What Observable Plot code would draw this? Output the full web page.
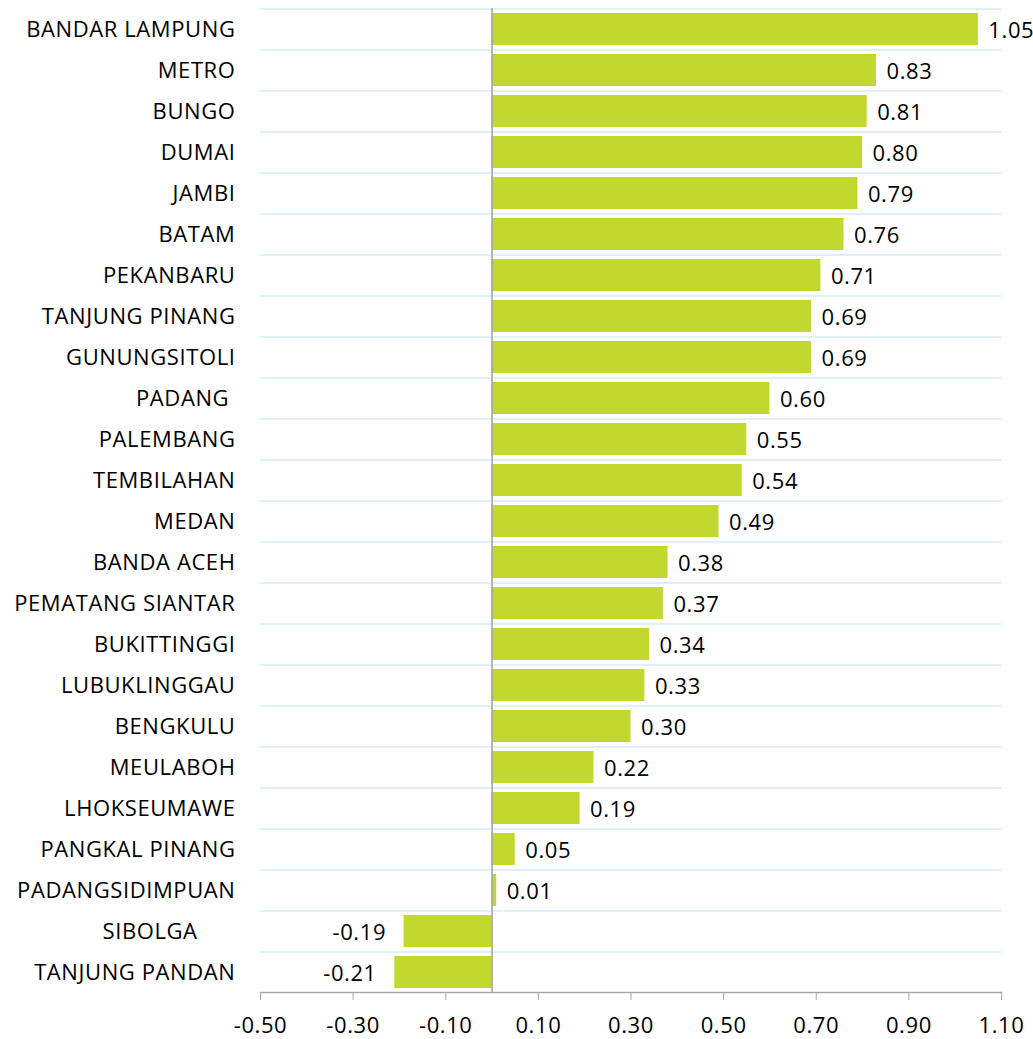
<!DOCTYPE html>
<html>
<head>
<meta charset="utf-8">
<script src="https://cdn.jsdelivr.net/npm/d3@7"></script>
<script src="https://cdn.jsdelivr.net/npm/@observablehq/plot@0.6"></script>
<style>
  html, body { margin: 0; padding: 0; background: #fff; }
  #chart svg text { white-space: pre; font-size: 22px; letter-spacing: 0.6px; }
</style>
</head>
<body>
<div id="chart"></div>
<script>
const cities = [
  "BANDAR LAMPUNG", "METRO", "BUNGO", "DUMAI", "JAMBI", "BATAM", "PEKANBARU",
  "TANJUNG PINANG", "GUNUNGSITOLI", "PADANG ", "PALEMBANG", "TEMBILAHAN", "MEDAN",
  "BANDA ACEH", "PEMATANG SIANTAR", "BUKITTINGGI", "LUBUKLINGGAU", "BENGKULU",
  "MEULABOH", "LHOKSEUMAWE", "PANGKAL PINANG", "PADANGSIDIMPUAN", "SIBOLGA      ",
  "TANJUNG PANDAN"
];
const values = [
  1.05, 0.83, 0.81, 0.80, 0.79, 0.76, 0.71,
  0.69, 0.69, 0.60, 0.55, 0.54, 0.49,
  0.38, 0.37, 0.34, 0.33, 0.30,
  0.22, 0.19, 0.05, 0.01, -0.19,
  -0.21
];
const xTicks = [-0.5, -0.3, -0.1, 0.1, 0.3, 0.5, 0.7, 0.9, 1.1];

const data = cities.map((c, i) => ({city: c, value: values[i]}));
const fmt = v => v.toFixed(2);

const chart = Plot.plot({
  width: 1033,
  height: 1039,
  marginLeft: 260,
  marginRight: 32,
  marginTop: 8,
  marginBottom: 47,
  style: {fontFamily: "'Open Sans', sans-serif", fontSize: "22px", color: "#000", background: "#fff"},
  x: {domain: [-0.5, 1.1], ticks: xTicks, tickFormat: fmt, label: null},
  y: {domain: cities, paddingInner: 0.22, paddingOuter: 0.11, label: null},
  marks: [
    Plot.ruleY(cities, {y: d => d, dy: -20.5, stroke: "#d6edf2", strokeWidth: 1.5}),
    Plot.barX(data, {x: "value", y: "city", fill: "#c2d82f"}),
    Plot.ruleX([0], {stroke: "#a0a0a0", strokeWidth: 1.5}),
    Plot.frame({anchor: "bottom", stroke: "#a6a6a6", strokeWidth: 1.5}),
    Plot.axisX({ticks: xTicks, tickFormat: fmt, tickSize: 8, tickPadding: 17, stroke: "#a6a6a6", fill: "#000", fontSize: 22, label: null}),
    Plot.axisY({tickSize: 0, tickPadding: 25, fill: "#000", fontSize: 22, label: null}),
    Plot.text(data.filter(d => d.value >= 0), {x: "value", y: "city", text: d => fmt(d.value), textAnchor: "start", dx: 10, dy: 1, fill: "#000", fontSize: 22}),
    Plot.text(data.filter(d => d.value < 0), {x: "value", y: "city", text: d => fmt(d.value), textAnchor: "end", dx: -18, dy: 1, fill: "#000", fontSize: 22})
  ]
});
document.getElementById("chart").appendChild(chart);
</script>
</body>
</html>
